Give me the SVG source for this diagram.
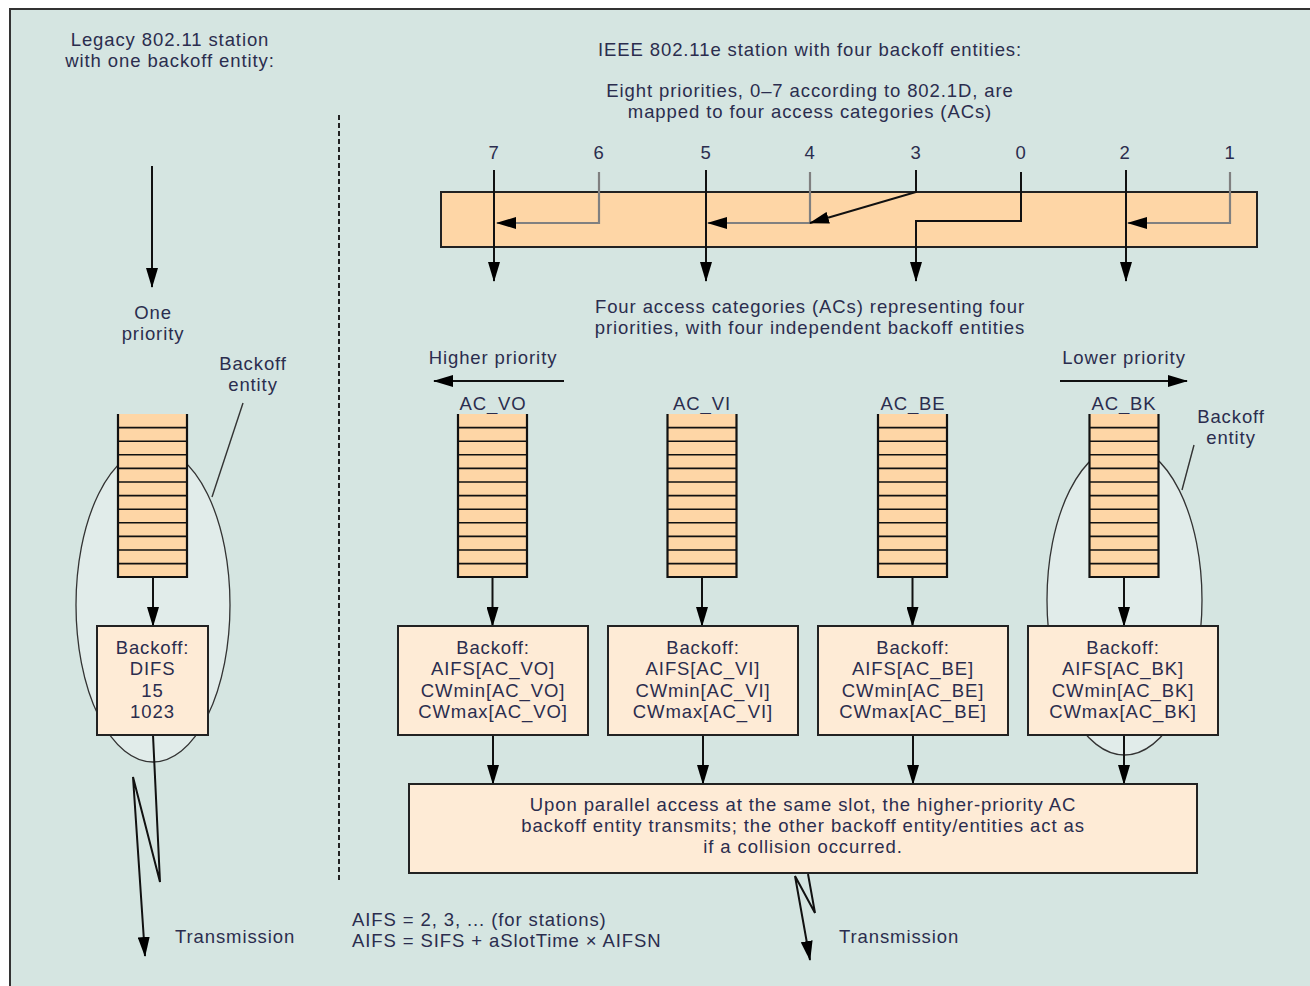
<svg xmlns="http://www.w3.org/2000/svg" width="1310" height="986" viewBox="0 0 1310 986">
<style>
text{font-family:"Liberation Sans",Arial,sans-serif;font-size:18.5px;letter-spacing:0.9px;fill:#2b2d4e;text-anchor:middle}
.l{text-anchor:start}
.ln{fill:none;stroke:#111;stroke-width:2}
.gr{fill:none;stroke:#808080;stroke-width:2.2}
.box{fill:#feebd6;stroke:#222;stroke-width:2}
.ell{fill:#e1ecea;stroke:#333;stroke-width:1.3}
.thin{fill:none;stroke:#333;stroke-width:1.4}
</style>
<defs>
<marker id="ah" viewBox="0 0 20 12" refX="19" refY="6" markerWidth="20" markerHeight="12" markerUnits="userSpaceOnUse" orient="auto">
<path d="M0,0L20,6L0,12z" fill="#000"/>
</marker>
<g id="queue">
<rect width="69" height="163" fill="#fed6a6"/>
<path d="M0,13.6H69M0,27.2H69M0,40.8H69M0,54.4H69M0,68H69M0,81.6H69M0,95.2H69M0,108.8H69M0,122.4H69M0,136H69M0,149.6H69" stroke="#111" stroke-width="1.6"/>
<path d="M0,0V163H69V0" fill="none" stroke="#111" stroke-width="2.2"/>
</g>
</defs>
<rect width="1310" height="986" fill="#fff"/>
<rect x="10" y="9" width="1310" height="990" fill="#d5e5e1" stroke="#333" stroke-width="2"/>

<g id="labels">
<text x="170" y="46">Legacy 802.11 station</text>
<text x="170" y="67">with one backoff entity:</text>
<text x="810" y="56">IEEE 802.11e station with four backoff entities:</text>
<text x="810" y="97">Eight priorities, 0–7 according to 802.1D, are</text>
<text x="810" y="118">mapped to four access categories (ACs)</text>
<text x="494" y="159">7</text>
<text x="599" y="159">6</text>
<text x="706" y="159">5</text>
<text x="810" y="159">4</text>
<text x="916" y="159">3</text>
<text x="1021" y="159">0</text>
<text x="1125" y="159">2</text>
<text x="1230" y="159">1</text>
<text x="810" y="313">Four access categories (ACs) representing four</text>
<text x="810" y="334">priorities, with four independent backoff entities</text>
<text x="153" y="319">One</text>
<text x="153" y="340">priority</text>
<text x="253" y="370">Backoff</text>
<text x="253" y="391">entity</text>
<text x="1231" y="423">Backoff</text>
<text x="1231" y="444">entity</text>
<text x="493" y="364">Higher priority</text>
<text x="1124" y="364">Lower priority</text>
<text x="493" y="410">AC_VO</text>
<text x="702" y="410">AC_VI</text>
<text x="913" y="410">AC_BE</text>
<text x="1124" y="410">AC_BK</text>
<text class="l" x="352" y="926">AIFS = 2, 3, ... (for stations)</text>
<text class="l" x="352" y="947">AIFS = SIFS + aSlotTime × AIFSN</text>
<text class="l" x="175" y="943">Transmission</text>
<text class="l" x="839" y="943">Transmission</text>
</g>

<g id="ellipses">
<ellipse class="ell" cx="153" cy="605" rx="77" ry="157"/>
<ellipse class="ell" cx="1124.5" cy="600" rx="77.5" ry="155"/>
</g>

<g id="priority-bar">
<rect x="441" y="192" width="816" height="55" fill="#fed6a6" stroke="#222" stroke-width="2"/>
</g>

<g id="connectors">
<line class="thin" x1="243" y1="403" x2="212" y2="497"/>
<line class="thin" x1="1194" y1="445" x2="1182" y2="490"/>
<line x1="339" y1="115" x2="339" y2="882" stroke="#222" stroke-width="2" stroke-dasharray="5,3"/>
<path class="ln" d="M152,166V287" marker-end="url(#ah)"/>
<path class="ln" d="M494,170V281" marker-end="url(#ah)"/>
<path class="gr" d="M599,172V223H497" marker-end="url(#ah)"/>
<path class="ln" d="M706,170V281" marker-end="url(#ah)"/>
<path class="gr" d="M810,172V223H708" marker-end="url(#ah)"/>
<path class="ln" d="M916,170V192L810,223" marker-end="url(#ah)" stroke-width="1.8"/>
<path class="ln" d="M1021,172V221H916V281" marker-end="url(#ah)"/>
<path class="ln" d="M1126,170V281" marker-end="url(#ah)"/>
<path class="gr" d="M1230,172V223H1128" marker-end="url(#ah)"/>
<path class="ln" d="M564,381H434" marker-end="url(#ah)"/>
<path class="ln" d="M1060,381H1187" marker-end="url(#ah)"/>
<path class="ln" d="M153,577V626" marker-end="url(#ah)"/>
<path class="ln" d="M492.5,577V626" marker-end="url(#ah)"/>
<path class="ln" d="M702,577V626" marker-end="url(#ah)"/>
<path class="ln" d="M912.5,577V626" marker-end="url(#ah)"/>
<path class="ln" d="M1124,577V626" marker-end="url(#ah)"/>
<path class="ln" d="M493,735V784" marker-end="url(#ah)"/>
<path class="ln" d="M703,735V784" marker-end="url(#ah)"/>
<path class="ln" d="M913,735V784" marker-end="url(#ah)"/>
<path class="ln" d="M1124,735V784" marker-end="url(#ah)"/>
<path class="ln" d="M153,735L160,882L133,777L145,956" stroke-width="1.6" marker-end="url(#ah)"/>
<path class="ln" d="M808,874L815,913L795,876L810,960" stroke-width="1.6" marker-end="url(#ah)"/>
</g>

<g id="queue-legacy"><use href="#queue" x="118" y="414"/></g>
<g id="queue-vo"><use href="#queue" x="458" y="414"/></g>
<g id="queue-vi"><use href="#queue" x="667.5" y="414"/></g>
<g id="queue-be"><use href="#queue" x="878" y="414"/></g>
<g id="queue-bk"><use href="#queue" x="1089.5" y="414"/></g>

<g id="backoff-legacy">
<rect class="box" x="97" y="626" width="111" height="109"/>
<text x="152.5" y="654">Backoff:</text>
<text x="152.5" y="675">DIFS</text>
<text x="152.5" y="697">15</text>
<text x="152.5" y="718">1023</text>
</g>
<g id="backoff-vo">
<rect class="box" x="398" y="626" width="190" height="109"/>
<text x="493" y="654">Backoff:</text>
<text x="493" y="675">AIFS[AC_VO]</text>
<text x="493" y="697">CWmin[AC_VO]</text>
<text x="493" y="718">CWmax[AC_VO]</text>
</g>
<g id="backoff-vi">
<rect class="box" x="608" y="626" width="190" height="109"/>
<text x="703" y="654">Backoff:</text>
<text x="703" y="675">AIFS[AC_VI]</text>
<text x="703" y="697">CWmin[AC_VI]</text>
<text x="703" y="718">CWmax[AC_VI]</text>
</g>
<g id="backoff-be">
<rect class="box" x="818" y="626" width="190" height="109"/>
<text x="913" y="654">Backoff:</text>
<text x="913" y="675">AIFS[AC_BE]</text>
<text x="913" y="697">CWmin[AC_BE]</text>
<text x="913" y="718">CWmax[AC_BE]</text>
</g>
<g id="backoff-bk">
<rect class="box" x="1028" y="626" width="190" height="109"/>
<text x="1123" y="654">Backoff:</text>
<text x="1123" y="675">AIFS[AC_BK]</text>
<text x="1123" y="697">CWmin[AC_BK]</text>
<text x="1123" y="718">CWmax[AC_BK]</text>
</g>
<g id="arbiter">
<rect class="box" x="409" y="784" width="788" height="89"/>
<text x="803" y="811">Upon parallel access at the same slot, the higher-priority AC</text>
<text x="803" y="832">backoff entity transmits; the other backoff entity/entities act as</text>
<text x="803" y="853">if a collision occurred.</text>
</g>
</svg>
